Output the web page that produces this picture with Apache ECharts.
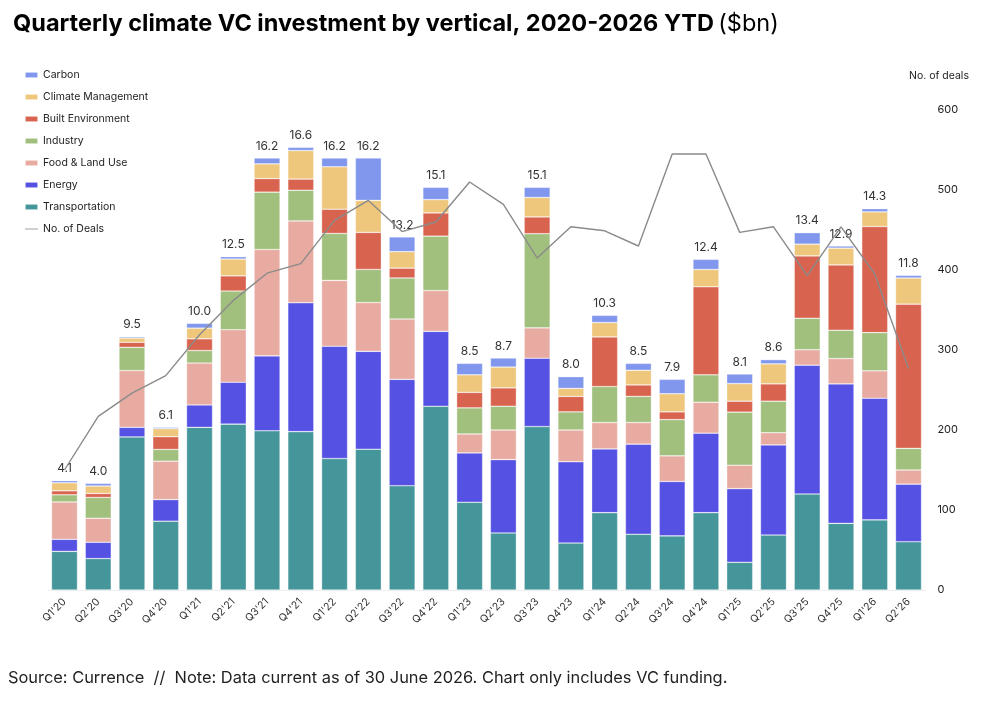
<!DOCTYPE html>
<html>
<head>
<meta charset="utf-8">
<title>Quarterly climate VC investment by vertical</title>
<script src="https://cdn.jsdelivr.net/npm/echarts@6.0.0/dist/echarts.min.js"></script>
<style>
  html, body { margin: 0; padding: 0; background: #fff; }
  #chart { width: 988px; height: 714px; }
</style>
</head>
<body>
<div id="chart"></div>
<script>
// quarters on the x axis
const quarters = ["Q1'20","Q2'20","Q3'20","Q4'20","Q1'21","Q2'21","Q3'21","Q4'21","Q1'22","Q2'22","Q3'22","Q4'22","Q1'23","Q2'23","Q3'23","Q4'23","Q1'24","Q2'24","Q3'24","Q4'24","Q1'25","Q2'25","Q3'25","Q4'25","Q1'26","Q2'26"]

// $bn per vertical (bottom to top)
const transportation = [1.45,1.18,5.74,2.58,6.10,6.22,5.97,5.94,4.93,5.28,3.91,6.89,3.29,2.14,6.13,1.76,2.90,2.09,2.03,2.90,1.04,2.06,3.60,2.50,2.63,1.81]
const energy = [0.45,0.61,0.36,0.81,0.84,1.57,2.81,4.83,4.21,3.67,3.99,2.81,1.85,2.75,2.56,3.05,2.39,3.38,2.04,2.98,2.76,3.38,4.83,5.23,4.56,2.16]
const foodLand = [1.40,0.90,2.13,1.44,1.57,1.97,3.99,3.07,2.47,1.83,2.26,1.53,0.71,1.11,1.14,1.19,0.99,0.81,0.96,1.16,0.88,0.46,0.58,0.95,1.03,0.53]
const industry = [0.27,0.78,0.87,0.44,0.47,1.45,2.15,1.15,1.76,1.24,1.54,2.04,0.98,0.89,3.53,0.68,1.35,0.98,1.36,1.03,1.99,1.18,1.18,1.06,1.43,0.81]
const builtEnv = [0.15,0.15,0.19,0.48,0.44,0.57,0.51,0.42,0.91,1.39,0.37,0.87,0.58,0.69,0.63,0.58,1.86,0.43,0.29,3.30,0.41,0.65,2.34,2.45,3.98,5.41]
const climateMgmt = [0.30,0.28,0.16,0.30,0.40,0.63,0.55,1.07,1.59,1.20,0.62,0.50,0.66,0.78,0.73,0.30,0.54,0.55,0.68,0.65,0.66,0.75,0.44,0.63,0.55,0.98]
const carbon = [0.08,0.10,0.05,0.05,0.18,0.09,0.22,0.12,0.33,1.59,0.55,0.46,0.43,0.34,0.38,0.44,0.27,0.26,0.54,0.38,0.36,0.16,0.43,0.08,0.12,0.10]

// labelled totals above each bar
const totals = ['4.1','4.0','9.5','6.1','10.0','12.5','16.2','16.6','16.2','16.2','13.2','15.1','8.5','8.7','15.1','8.0','10.3','8.5','7.9','12.4','8.1','8.6','13.4','12.9','14.3','11.8']

// number of deals (right axis)
const deals = [150,217,246,268,319,362,396,408,462,487,448,460,510,482,415,454,449,430,545,545,447,454,393,454,395,277]

const dealTicks = [0, 600, 100]

const FONT = 'Inter, "Noto Sans", sans-serif'

let chart = echarts.init(document.getElementById('chart'))

function barSeries(name, data, color, withTotal) {
  let s = {
    name: name,
    type: 'bar',
    stack: 'vc',
    yAxisIndex: 0,
    barWidth: '77%',
    data: data,
    itemStyle: { color: color, borderColor: 'rgba(255,255,255,0.55)', borderWidth: 0.6 },
    emphasis: { disabled: true },
  }
  if (withTotal) {
    s.label = {
      show: true,
      position: 'top',
      distance: 6,
      color: '#333',
      fontSize: 12,
      fontFamily: FONT,
      formatter: p => totals[p.dataIndex],
    }
  }
  return s
}

let option = {
  animation: false,
  backgroundColor: '#fff',
  textStyle: { fontFamily: FONT },
  title: {
    left: 8,
    top: 7,
    text: '{b|Quarterly climate VC investment by vertical, 2020-2026 YTD} {n|($bn)}',
    textStyle: {
      rich: {
        b: { fontSize: 23.5, fontWeight: 'bold', color: '#000', fontFamily: FONT },
        n: { fontSize: 23.5, fontWeight: 'normal', color: '#000', fontFamily: FONT },
      },
    },
  },
  legend: {
    orient: 'vertical',
    left: 19,
    top: 64,
    itemWidth: 13,
    itemHeight: 6,
    itemGap: 10,
    selectedMode: false,
    textStyle: { fontSize: 10.5, color: '#222', lineHeight: 12 },
    data: ['Carbon', 'Climate Management', 'Built Environment', 'Industry', 'Food & Land Use', 'Energy', 'Transportation',
      { name: 'No. of Deals', icon: 'path://M0,0L26,0L26,1.6L0,1.6Z' }],
  },
  grid: { left: 47.6, right: 62.6, top: 110, bottom: 124 },
  xAxis: {
    type: 'category',
    data: quarters,
    axisTick: { show: false },
    axisLine: { lineStyle: { color: '#eeeeee' } },
    axisLabel: { rotate: 45, fontSize: 10.5, color: '#333', margin: 10 },
  },
  yAxis: [
    { type: 'value', min: 0, max: 18, show: false, splitLine: { show: false } },
    {
      type: 'value',
      position: 'right',
      min: dealTicks[0],
      max: dealTicks[1],
      interval: dealTicks[2],
      axisLine: { show: false },
      axisTick: { show: false },
      splitLine: { show: false },
      axisLabel: { fontSize: 11, color: '#222', margin: 12 },
    },
  ],
  graphic: [
    {
      type: 'text', left: 909, top: 70,
      style: { text: 'No. of deals', fontSize: 10.5, fill: '#222', fontFamily: FONT },
    },
    {
      type: 'text', left: 8, top: 670,
      style: { text: 'Source: Currence  //  Note: Data current as of 30 June 2026. Chart only includes VC funding.', fontSize: 16.4, fill: '#222', fontFamily: FONT },
    },
  ],
  series: [
    barSeries('Transportation', transportation, '#45969b'),
    barSeries('Energy', energy, '#5551e3'),
    barSeries('Food & Land Use', foodLand, '#e8aba1'),
    barSeries('Industry', industry, '#a1bf7d'),
    barSeries('Built Environment', builtEnv, '#d8644f'),
    barSeries('Climate Management', climateMgmt, '#eec77d'),
    barSeries('Carbon', carbon, '#8097ed', true),
    {
      name: 'No. of Deals',
      type: 'line',
      yAxisIndex: 1,
      data: deals,
      symbol: 'none',
      z: 5,
      lineStyle: { color: '#8a8a8a', width: 1.4 },
      itemStyle: { color: '#8a8a8a' },
      emphasis: { disabled: true },
    },
  ],
}

chart.setOption(option)
</script>
</body>
</html>
